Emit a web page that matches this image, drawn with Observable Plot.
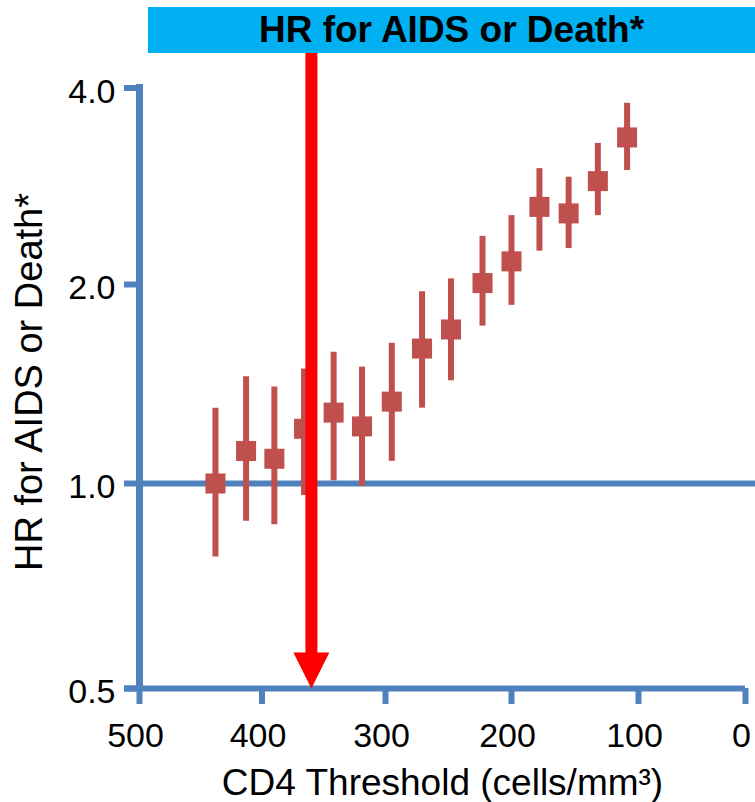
<!DOCTYPE html>
<html>
<head>
<meta charset="utf-8">
<script src="https://cdn.jsdelivr.net/npm/d3@7"></script>
<script src="https://cdn.jsdelivr.net/npm/@observablehq/plot@0.6"></script>
<style>
  html, body { margin: 0; padding: 0; background: #fff; }
  #wrap { width: 755px; height: 802px; overflow: hidden; background: #fff; font-family: "Liberation Sans", Arial, sans-serif; }
  #titlebox { height: 53px; position: relative; }
  #titlebar { position: absolute; left: 148px; top: 7px; width: 607px; height: 46px; background: #00B0F0;
    color: #000; font-weight: bold; font-size: 37px; line-height: 46px; text-align: center; white-space: nowrap; }
  #chart svg { display: block; }
</style>
</head>
<body>
<div id="wrap">
  <div id="titlebox"><div id="titlebar">HR for AIDS or Death*</div></div>
  <div id="chart"></div>
</div>
<script>
// ---- data ----
const titleText = "HR for AIDS or Death*";
const yLabel = "HR for AIDS or Death*";
const xLabel = "CD4 Threshold (cells/mm\u00B3)";
const xTicks = [500, 400, 300, 200, 100, 0];
const yTicks = [0.5, 1, 2, 4];
const thresholds = [438, 413, 390, 366, 342, 319, 295, 271, 248, 223, 200, 178, 155, 132, 109];
const hr    = [1.00, 1.12, 1.09, 1.21, 1.28, 1.22, 1.33, 1.60, 1.71, 2.01, 2.17, 2.63, 2.57, 2.88, 3.36];
const lower = [0.78, 0.88, 0.87, 0.96, 1.01, 0.99, 1.08, 1.30, 1.43, 1.73, 1.86, 2.25, 2.27, 2.55, 2.99];
const upper = [1.30, 1.45, 1.40, 1.49, 1.58, 1.50, 1.63, 1.95, 2.04, 2.37, 2.55, 3.01, 2.92, 3.29, 3.79];
const refHR = [1];
const arrowThreshold = [360];

// ---- styles ----
const blue = "#4F81BD";
const brick = "#C0504D";
const red = "#FF0000";

const rows = thresholds.map((t, i) => ({t, hr: hr[i], lo: lower[i], hi: upper[i]}));

// filled arrow head, tip at the anchor point
const arrowHead = {
  draw(context, size) {
    const r = Math.sqrt(size / Math.PI);
    context.moveTo(0, 0);
    context.lineTo(-r, -2 * r);
    context.lineTo(r, -2 * r);
    context.closePath();
  }
};

const chart = Plot.plot({
  width: 755,
  height: 749,
  marginLeft: 139,
  marginRight: 10,
  marginTop: 34,
  marginBottom: 114,
  style: {fontFamily: "'Liberation Sans', Arial, sans-serif", background: "white", overflow: "visible"},
  x: {type: "linear", domain: xTicks, range: [139, 261.5, 385, 511, 638, 745]},
  y: {type: "log", domain: yTicks, range: [635, 430, 231, 34.5]},
  marks: [
    // reference line at HR = 1
    Plot.ruleY(refHR, {stroke: blue, strokeWidth: 6, insetRight: -10}),
    // axes lines
    Plot.ruleX([xTicks[0]], {stroke: blue, strokeWidth: 7, insetTop: -3}),
    Plot.ruleY([yTicks[0]], {stroke: blue, strokeWidth: 6, insetLeft: -15}),
    // tick marks
    Plot.axisX({ticks: xTicks, tickSize: 16, stroke: blue, strokeWidth: 6,
      tickFormat: () => "", label: null}),
    Plot.axisY({ticks: yTicks, tickSize: 15, stroke: blue, strokeWidth: 6,
      tickFormat: () => "", label: null}),
    // tick labels
    Plot.axisX({ticks: xTicks, tickSize: 0, tickPadding: 34, dx: -4,
      fill: "black", fontSize: 34, tickFormat: d => String(d), label: null}),
    Plot.axisY({ticks: yTicks, tickSize: 0, tickPadding: 24, dy: 4,
      fill: "black", fontSize: 34, tickFormat: d3.format(".1f"), label: null}),
    // confidence intervals
    Plot.ruleX(rows, {x: "t", y1: "lo", y2: "hi", stroke: brick, strokeWidth: 6}),
    // point estimates
    Plot.dot(rows, {x: "t", y: "hr", symbol: "square", r: 11.3, fill: brick, stroke: null}),
    // red arrow
    Plot.ruleX(arrowThreshold, {stroke: red, strokeWidth: 12, insetTop: -34.5, insetBottom: 33}),
    Plot.dot(arrowThreshold, {x: d => d, frameAnchor: "bottom", symbol: arrowHead, r: 18, fill: red, stroke: null}),
    // axis titles
    Plot.text([yLabel], {text: d => d, frameAnchor: "left", rotate: -90, dx: -110, dy: -6,
      fontSize: 38, textAnchor: "middle", lineAnchor: "middle", fill: "black"}),
    Plot.text([xLabel], {text: d => d, frameAnchor: "bottom", dy: 94.5,
      fontSize: 37, textAnchor: "middle", lineAnchor: "middle", fill: "black"})
  ]
});
document.getElementById("chart").appendChild(chart);
document.getElementById("titlebar").textContent = titleText;
</script>
</body>
</html>
